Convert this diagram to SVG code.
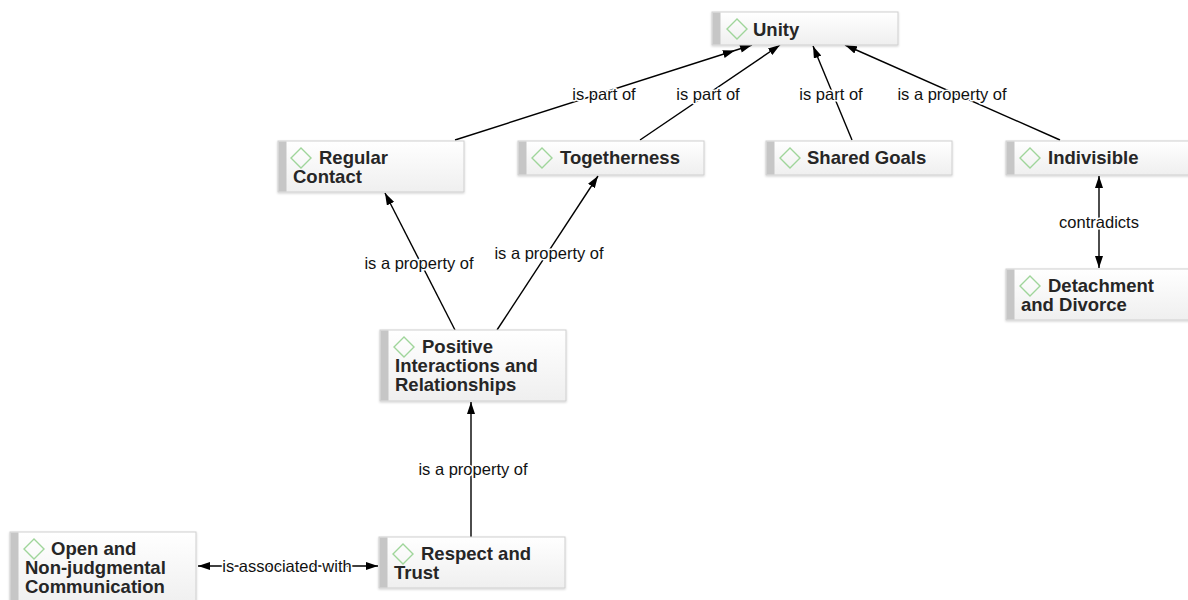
<svg xmlns="http://www.w3.org/2000/svg" width="1188" height="600" viewBox="0 0 1188 600">
  <defs>
    <linearGradient id="boxFill" x1="0" y1="0" x2="0" y2="1">
      <stop offset="0" stop-color="#ffffff"/>
      <stop offset="1" stop-color="#efefef"/>
    </linearGradient>
    <filter id="shadow" x="-5%" y="-20%" width="110%" height="150%">
      <feDropShadow dx="0" dy="1" stdDeviation="1.2" flood-color="#000" flood-opacity="0.18"/>
    </filter>
    <marker id="arrow" viewBox="0 0 12 8" refX="12" refY="4" markerWidth="12" markerHeight="8" markerUnits="userSpaceOnUse" orient="auto-start-reverse">
      <path d="M0,0 L12,4 L0,8 Z" fill="#000"/>
    </marker>
    <marker id="arrow2" viewBox="0 0 30 8" refX="30" refY="4" markerWidth="30" markerHeight="8" markerUnits="userSpaceOnUse" orient="auto">
      <path d="M0,0 L12,4 L0,8 Z M18,0 L30,4 L18,8 Z" fill="#000"/>
    </marker>
  </defs>
  <style>
    .box { fill: url(#boxFill); stroke: #cfcfcf; stroke-width: 1; filter: url(#shadow); }
    .bar { fill: #c6c6c6; }
    .dia { fill: none; stroke: #9fd59a; stroke-width: 1.4; }
    .name { font-family: "Liberation Sans", Arial, sans-serif; font-weight: bold; font-size: 18.5px; fill: #262626; }
    .edge { stroke: #000; stroke-width: 1.4; fill: none; }
    .lbl { font-family: "Liberation Sans", Arial, sans-serif; font-size: 16.5px; fill: #111; text-anchor: middle; stroke: #fff; stroke-width: 3; paint-order: stroke; stroke-linejoin: round; }
  </style>
  <rect width="1188" height="600" fill="#fff"/>

  <!-- connectors -->
  <g id="connectors">
    <line class="edge" x1="455" y1="140" x2="752" y2="45" marker-end="url(#arrow2)"/>
    <line class="edge" x1="640" y1="140" x2="780" y2="45" marker-end="url(#arrow)"/>
    <line class="edge" x1="852" y1="140" x2="813" y2="46" marker-end="url(#arrow)"/>
    <line class="edge" x1="1060" y1="140" x2="845" y2="45" marker-end="url(#arrow)"/>
    <line class="edge" x1="455" y1="330" x2="385" y2="193" marker-end="url(#arrow)"/>
    <line class="edge" x1="497" y1="330" x2="598" y2="176" marker-end="url(#arrow)"/>
    <line class="edge" x1="471" y1="537" x2="471" y2="402" marker-end="url(#arrow)"/>
    <line class="edge" x1="1099" y1="176" x2="1099" y2="268" marker-start="url(#arrow)" marker-end="url(#arrow)"/>
    <line class="edge" x1="198" y1="566" x2="378" y2="566" marker-start="url(#arrow)" marker-end="url(#arrow)"/>
    <text class="lbl" x="604" y="100">is part of</text>
    <text class="lbl" x="708" y="100">is part of</text>
    <text class="lbl" x="831" y="100">is part of</text>
    <text class="lbl" x="952" y="100">is a property of</text>
    <text class="lbl" x="419" y="269">is a property of</text>
    <text class="lbl" x="549" y="259">is a property of</text>
    <text class="lbl" x="473" y="475">is a property of</text>
    <text class="lbl" x="1099" y="228">contradicts</text>
    <text class="lbl" x="287" y="572">is associated with</text>
  </g>

  <g id="unity">
    <rect class="box" x="712" y="12" width="186" height="33"/>
    <rect class="bar" x="712.5" y="12.5" width="8" height="32"/>
    <path class="dia" d="M737,19 L747,29 L737,39 L727,29 Z"/>
    <text class="name" x="753" y="36">Unity</text>
  </g>

  <g id="regular-contact">
    <rect class="box" x="278" y="141" width="186" height="51"/>
    <rect class="bar" x="278.5" y="141.5" width="8" height="50"/>
    <path class="dia" d="M301,148 L311,158 L301,168 L291,158 Z"/>
    <text class="name" x="319" y="164">Regular</text>
    <text class="name" x="293" y="183">Contact</text>
  </g>

  <g id="togetherness">
    <rect class="box" x="518" y="141" width="186" height="34"/>
    <rect class="bar" x="518.5" y="141.5" width="8" height="33"/>
    <path class="dia" d="M542,148 L552,158 L542,168 L532,158 Z"/>
    <text class="name" x="560" y="164">Togetherness</text>
  </g>

  <g id="shared-goals">
    <rect class="box" x="766" y="141" width="186" height="34"/>
    <rect class="bar" x="766.5" y="141.5" width="8" height="33"/>
    <path class="dia" d="M790,148 L800,158 L790,168 L780,158 Z"/>
    <text class="name" x="807" y="164">Shared Goals</text>
  </g>

  <g id="indivisible">
    <rect class="box" x="1006" y="141" width="186" height="34"/>
    <rect class="bar" x="1006.5" y="141.5" width="8" height="33"/>
    <path class="dia" d="M1030,148 L1040,158 L1030,168 L1020,158 Z"/>
    <text class="name" x="1048" y="164">Indivisible</text>
  </g>

  <g id="detachment-divorce">
    <rect class="box" x="1006" y="269" width="186" height="51"/>
    <rect class="bar" x="1006.5" y="269.5" width="8" height="50"/>
    <path class="dia" d="M1030,276 L1040,286 L1030,296 L1020,286 Z"/>
    <text class="name" x="1048" y="292">Detachment</text>
    <text class="name" x="1021" y="311">and Divorce</text>
  </g>

  <g id="positive-interactions">
    <rect class="box" x="380" y="330" width="186" height="71"/>
    <rect class="bar" x="380.5" y="330.5" width="8" height="70"/>
    <path class="dia" d="M404,337 L414,347 L404,357 L394,347 Z"/>
    <text class="name" x="422" y="353">Positive</text>
    <text class="name" x="395" y="372">Interactions and</text>
    <text class="name" x="395" y="391">Relationships</text>
  </g>

  <g id="respect-trust">
    <rect class="box" x="379" y="537" width="186" height="51"/>
    <rect class="bar" x="379.5" y="537.5" width="8" height="50"/>
    <path class="dia" d="M403,544 L413,554 L403,564 L393,554 Z"/>
    <text class="name" x="421" y="560">Respect and</text>
    <text class="name" x="394" y="579">Trust</text>
  </g>

  <g id="open-communication">
    <rect class="box" x="10" y="532" width="186" height="74"/>
    <rect class="bar" x="10.5" y="532.5" width="8" height="73"/>
    <path class="dia" d="M34,539 L44,549 L34,559 L24,549 Z"/>
    <text class="name" x="51" y="555">Open and</text>
    <text class="name" x="25" y="574">Non-judgmental</text>
    <text class="name" x="25" y="593">Communication</text>
  </g>
</svg>
